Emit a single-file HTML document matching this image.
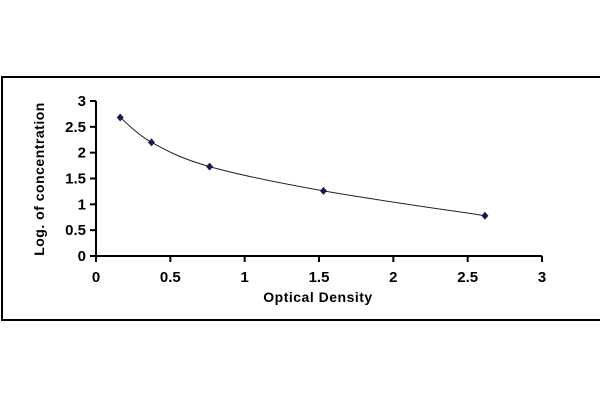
<!DOCTYPE html>
<html><head><meta charset="utf-8"><style>
body{margin:0;background:#fff;}
svg{display:block;font-family:"Liberation Sans",Arial,sans-serif;font-weight:bold;}
</style></head><body>
<svg width="600" height="400">
<rect x="2" y="77" width="610" height="243" fill="#fff" stroke="#000" stroke-width="2"/>
<g id="axes"></g>
<g id="marks"></g>
<text x="318" y="302" font-size="14" text-anchor="middle" letter-spacing="0.5">Optical Density</text>
<text transform="translate(44,179) rotate(-90)" font-size="14" text-anchor="middle" letter-spacing="0.5">Log. of concentration</text>
</svg>
<script>
const xTicks=[0,0.5,1,1.5,2,2.5,3];
const xTickLabels=["0","0.5","1","1.5","2","2.5","3"];
const yTicks=[0,0.5,1,1.5,2,2.5,3];
const yTickLabels=["0","0.5","1","1.5","2","2.5","3"];
const odValues=[0.163,0.373,0.764,1.53,2.616];
const logConc=[2.68,2.2,1.73,1.26,0.78];
const NS="http://www.w3.org/2000/svg";
const X0=96,X1=542,Y0=256,Y1=101;
const sx=v=>X0+(X1-X0)*v/3, sy=v=>Y0-(Y0-Y1)*v/3;
function mk(t,a,p){const e=document.createElementNS(NS,t);for(const k in a)e.setAttribute(k,a[k]);p.appendChild(e);return e;}
const ax=document.getElementById('axes'),mg=document.getElementById('marks');
const xl=mk('line',{x1:X0,y1:Y0,x2:X1,y2:Y0,stroke:'#000','stroke-width':2},ax);


const yl=mk('line',{x1:X0,y1:Y0,x2:X0,y2:Y1,stroke:'#000','stroke-width':2},ax);


xTicks.forEach((v,i)=>{
 mk('line',{x1:sx(v),y1:Y0,x2:sx(v),y2:Y0+6,stroke:'#000','stroke-width':2},ax);
 const t=mk('text',{x:sx(v),y:Y0+26,'font-size':15,'text-anchor':'middle'},ax);
 t.textContent=xTickLabels[i];
 
 
});
yTicks.forEach((v,i)=>{
 mk('line',{x1:X0-6,y1:sy(v),x2:X0,y2:sy(v),stroke:'#000','stroke-width':2},ax);
 const t=mk('text',{x:X0-10,y:sy(v)+5,'font-size':15,'text-anchor':'end'},ax);
 t.textContent=yTickLabels[i];
 
 
});
const P=odValues.map((v,i)=>[sx(v),sy(logConc[i])]);
let d=`M${P[0][0]},${P[0][1]}`;
for(let i=0;i<P.length-1;i++){
 const p0=P[i-1]||P[i],p1=P[i],p2=P[i+1],p3=P[i+2]||p2;
 d+=` C${p1[0]+(p2[0]-p0[0])/6},${p1[1]+(p2[1]-p0[1])/6} ${p2[0]-(p3[0]-p1[0])/6},${p2[1]-(p3[1]-p1[1])/6} ${p2[0]},${p2[1]}`;
}
const c=mk('path',{d:d,fill:'none',stroke:'#222','stroke-width':1},mg);


P.forEach(p=>{
 const m=mk('polygon',{points:`${p[0]},${p[1]-4} ${p[0]+3.5},${p[1]} ${p[0]},${p[1]+4} ${p[0]-3.5},${p[1]}`,fill:'#1a1a50'},mg);
 
 
});
</script>
</body></html>
